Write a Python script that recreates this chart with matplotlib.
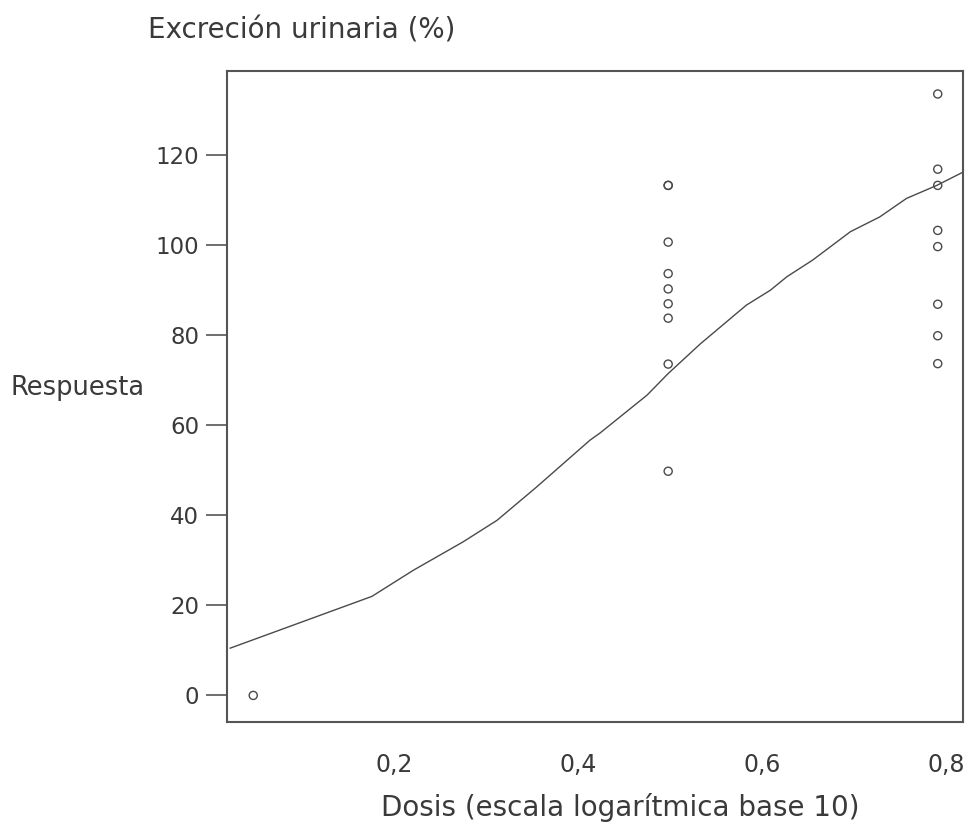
import matplotlib
matplotlib.use("Agg")
import matplotlib.pyplot as plt

# Data (dose on log10 scale, response %)
dose_points = [0.047,
               0.498, 0.498, 0.498, 0.498, 0.498, 0.498, 0.498, 0.498, 0.498,
               0.791, 0.791, 0.791, 0.791, 0.791, 0.791, 0.791, 0.791]
resp_points = [0.0,
               113.3, 113.3, 100.7, 93.7, 90.3, 87.0, 83.8, 73.6, 49.8,
               133.6, 116.9, 113.3, 103.3, 99.7, 86.9, 79.9, 73.7]

curve_x = [0.022, 0.176, 0.221, 0.275, 0.312, 0.355, 0.384, 0.413, 0.424,
           0.475, 0.498, 0.533, 0.583, 0.609, 0.627, 0.655, 0.696, 0.728,
           0.757, 0.790, 0.819]
curve_y = [10.5, 22.0, 27.8, 34.1, 38.9, 46.3, 51.5, 56.7, 58.3,
           66.7, 71.5, 78.1, 86.7, 90.0, 93.0, 96.7, 103.0, 106.3,
           110.4, 113.3, 116.3]

xticks = [0.2, 0.4, 0.6, 0.8]
xtick_labels = ["0,2", "0,4", "0,6", "0,8"]
yticks = [0, 20, 40, 60, 80, 100, 120]

title = "Excreción urinaria (%)"
xlabel = "Dosis (escala logarítmica base 10)"
ylabel = "Respuesta"

txt = "#3a3a3a"
edge = "#555555"

plt.rcParams['font.family'] = ['DejaVu Sans']
fig = plt.figure(figsize=(9.71, 8.27), dpi=100)
ax = fig.add_axes([0.2338, 0.127, 0.758, 0.7871])

ax.plot(curve_x, curve_y, color="#4a4a4a", lw=1.0, zorder=2)
ax.scatter(dose_points, resp_points, s=34, facecolors="none",
           edgecolors="#4a4a4a", linewidths=1.0, zorder=3)

ax.set_xlim(0.0185, 0.8185)
ax.set_ylim(-5.9, 138.7)

ax.set_yticks(yticks)
ax.set_yticklabels([str(v) for v in yticks])
ax.tick_params(axis='y', direction='out', length=15, width=1.2,
               color=edge, labelsize=16.5, labelcolor=txt, pad=5)
ax.set_xticks(xticks)
ax.set_xticklabels(xtick_labels)
ax.tick_params(axis='x', length=0, labelsize=17, labelcolor=txt, pad=22)

for s in ax.spines.values():
    s.set_color(edge)
    s.set_linewidth(1.5)

fig.text(148 / 971, 1 - 30 / 827, title, fontsize=20, color=txt,
         ha='left', va='center')
fig.text(620 / 971, 1 - 808 / 827, xlabel, fontsize=20, color=txt,
         ha='center', va='center')
fig.text(10 / 971, 1 - 388 / 827, ylabel, fontsize=18.5, color=txt,
         ha='left', va='center')

fig.savefig("out.png", dpi=100, facecolor="white")
